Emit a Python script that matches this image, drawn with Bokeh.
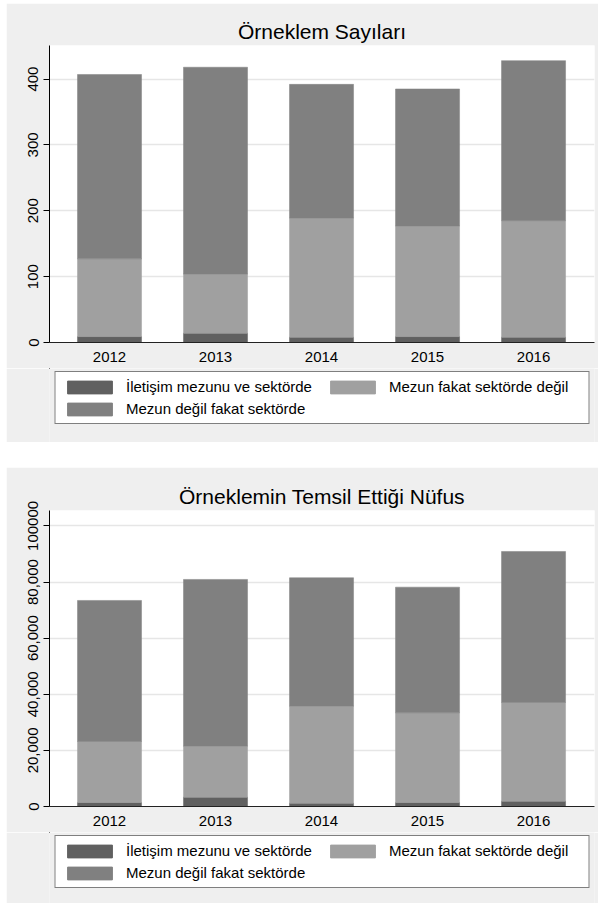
from bokeh.plotting import figure
from bokeh.models import Range1d, FixedTicker, Legend, LegendItem, ColumnDataSource, Spacer
from bokeh.layouts import column, row
from bokeh.embed import file_html
from bokeh.resources import INLINE

# ---------------- data ----------------
years = ["2012", "2013", "2014", "2015", "2016"]
series_labels = ["İletişim mezunu ve sektörde",
                 "Mezun fakat sektörde değil",
                 "Mezun değil fakat sektörde"]

# Örneklem Sayıları (counts)
sample_grad_in_sector = [9, 14, 8, 9, 8]
sample_grad_not_sector = [118, 90, 181, 168, 177]
sample_nongrad_in_sector = [280, 314, 203, 208, 243]

# Örneklemin Temsil Ettiği Nüfus (weighted population)
pop_grad_in_sector = [1430, 3330, 1150, 1430, 1900]
pop_grad_not_sector = [21740, 18170, 34610, 31970, 35180]
pop_nongrad_in_sector = [50270, 59430, 45770, 44780, 53820]

top_ticks = [0, 100, 200, 300, 400]
top_tick_labels = ["0", "100", "200", "300", "400"]
bottom_ticks = [0, 20000, 40000, 60000, 80000, 100000]
bottom_tick_labels = ["0", "20,000", "40,000", "60,000", "80,000", "100000"]

colors = ["#606060", "#a0a0a0", "#808080"]
FONT = "Liberation Sans"
BG = "#efefef"
W = 592
BL, BR = 43, 4


def make_chart(title, src, ticks, tick_labels, ymax, top_border, frame_h):
    p = figure(width=W, height=top_border + frame_h + 26, output_backend="svg",
               toolbar_location=None,
               x_range=Range1d(-0.566, 4.575), y_range=Range1d(0, ymax),
               min_border_left=BL, min_border_right=BR,
               min_border_top=top_border, min_border_bottom=26,
               title=title)
    p.title.align = "center"
    p.title.text_font = FONT
    p.title.text_font_size = "21px"
    p.title.text_font_style = "normal"
    p.title.text_color = "#000000"
    p.title.standoff = 5

    p.vbar_stack(["a", "b", "c"], x="x", width=0.604, source=src,
                 fill_color=colors, line_color=colors, line_width=0.5)

    p.background_fill_color = "white"
    p.border_fill_color = BG
    p.outline_line_color = None

    p.xgrid.visible = False
    p.ygrid.ticker = FixedTicker(ticks=ticks)
    p.ygrid.grid_line_color = "#e6e6e6"
    p.ygrid.grid_line_width = 1.5

    xa = p.xaxis[0]
    xa.ticker = FixedTicker(ticks=list(range(len(years))))
    xa.major_label_overrides = {i: y for i, y in enumerate(years)}
    xa.major_tick_out = 0
    xa.major_tick_in = 0
    xa.major_tick_line_color = None
    xa.minor_tick_line_color = None
    xa.axis_line_color = "#222222"
    xa.major_label_text_font = FONT
    xa.major_label_text_font_size = "15px"
    xa.major_label_text_color = "#000000"
    xa.major_label_standoff = 9

    ya = p.yaxis[0]
    ya.ticker = FixedTicker(ticks=ticks)
    ya.major_label_overrides = {t: l for t, l in zip(ticks, tick_labels)}
    ya.major_label_orientation = "vertical"
    ya.major_tick_out = 6
    ya.major_tick_in = 0
    ya.minor_tick_line_color = None
    ya.axis_line_color = "#000000"
    ya.major_tick_line_color = "#000000"
    ya.major_label_text_font = FONT
    ya.major_label_text_font_size = "15px"
    ya.major_label_text_color = "#000000"
    ya.major_label_standoff = 5
    return p


def make_legend_fig(src, height):
    # legend holder: its renderers share the data but lie outside the visible ranges
    q = figure(width=W, height=height, output_backend="svg", toolbar_location=None,
               x_range=Range1d(100, 101), y_range=Range1d(-20, -10),
               min_border_left=BL, min_border_right=BR, min_border_top=0, min_border_bottom=0,
               x_axis_location=None, y_axis_location=None)
    rs = q.vbar_stack(["a", "b", "c"], x="x", width=0.604, source=src,
                      fill_color=colors, line_color=colors)
    q.grid.visible = False
    q.background_fill_color = BG
    q.border_fill_color = BG
    q.outline_line_color = None
    legend = Legend(items=[LegendItem(label=l, renderers=[r]) for l, r in zip(series_labels, rs)],
                    orientation="horizontal", ncols=2, location="top_center",
                    border_line_color="black", border_line_width=1,
                    background_fill_color="white", background_fill_alpha=1,
                    label_text_font=FONT, label_text_font_size="15px",
                    label_text_color="#000000",
                    glyph_width=56, glyph_height=16, label_height=16, label_width=193,
                    label_standoff=9, padding=6, spacing=5, margin=3)
    q.add_layout(legend)
    return q


def make_panel(title, a, b, c, ticks, tick_labels, ymax, top_border, frame_h, total_h):
    src = ColumnDataSource(dict(x=list(range(len(years))), a=a, b=b, c=c))
    chart = make_chart(title, src, ticks, tick_labels, ymax, top_border, frame_h)
    leg = make_legend_fig(src, total_h - (top_border + frame_h + 26))
    return column(chart, leg, spacing=0)


panel1 = make_panel("Örneklem Sayıları", sample_grad_in_sector, sample_grad_not_sector,
                    sample_nongrad_in_sector, top_ticks, top_tick_labels, 451, 42, 297, 439)
panel2 = make_panel("Örneklemin Temsil Ettiği Nüfus", pop_grad_in_sector, pop_grad_not_sector,
                    pop_nongrad_in_sector, bottom_ticks, bottom_tick_labels, 105500, 43, 296, 436)

layout = column(Spacer(height=3),
                row(Spacer(width=6), column(panel1, panel2, spacing=25), spacing=0),
                spacing=0)
open("out.html", "w").write(file_html(layout, INLINE))
